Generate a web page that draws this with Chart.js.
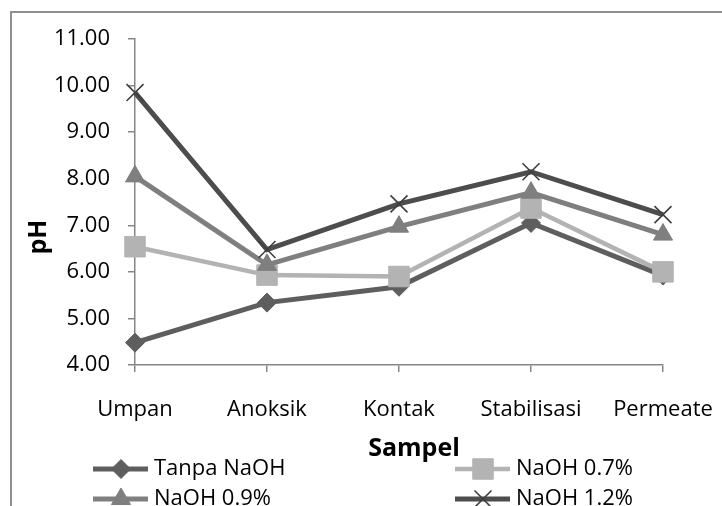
<!DOCTYPE html>
<html>
<head>
<meta charset="utf-8">
<script src="https://cdn.jsdelivr.net/npm/chart.js@4/dist/chart.umd.min.js"></script>
<style>
  html, body { margin: 0; padding: 0; background: #fff; }
  canvas { display: block; }
</style>
</head>
<body>
<canvas id="c" width="722" height="506"></canvas>
<script>
// pH per sampling point for each NaOH dose
const categories = ['Umpan', 'Anoksik', 'Kontak', 'Stabilisasi', 'Permeate'];
const seriesNames = ['Tanpa NaOH', 'NaOH 0.7%', 'NaOH 0.9%', 'NaOH 1.2%'];
const tanpaNaOH = [4.48, 5.34, 5.68, 7.05, 5.92];
const naoh07 = [6.54, 5.93, 5.90, 7.37, 6.00];
const naoh09 = [8.05, 6.15, 6.97, 7.70, 6.80];
const naoh12 = [9.85, 6.48, 7.46, 8.15, 7.23];
const yTicks = [4, 5, 6, 7, 8, 9, 10, 11];
const xTitle = 'Sampel';
const yTitle = 'pH';

const FONT = "'Open Sans', sans-serif";
const AXIS_GRAY = '#868686';

const styles = [
  { color: '#5e5e5e', point: 'rectRot', radius: 9.5, width: 5 },
  { color: '#b3b3b3', point: 'rect', radius: 14.5, width: 4.5 },
  { color: '#7f7f7f', point: 'triangle', radius: 11, width: 5 },
  { color: '#4d4d4d', point: 'crossRot', radius: 12, width: 5 }
];
const values = [tanpaNaOH, naoh07, naoh09, naoh12];

const datasets = values.map((v, i) => {
  const s = styles[i];
  const isCross = s.point === 'crossRot';
  return {
    label: seriesNames[i],
    data: v,
    borderColor: s.color,
    backgroundColor: s.color,
    borderWidth: s.width,
    pointStyle: s.point,
    pointRadius: s.radius,
    pointHoverRadius: s.radius,
    pointBackgroundColor: s.color,
    pointBorderColor: isCross ? '#3f3f3f' : s.color,
    pointBorderWidth: isCross ? 1.6 : 1,
    tension: 0,
    order: values.length - i
  };
});

function drawMarker(ctx, style, radius, x, y, color, isCross) {
  const opts = {
    pointStyle: style, radius: radius, rotation: 0,
    borderWidth: isCross ? 1.6 : 1
  };
  ctx.save();
  ctx.fillStyle = color;
  ctx.strokeStyle = isCross ? '#3f3f3f' : color;
  ctx.lineWidth = opts.borderWidth;
  Chart.helpers.drawPoint(ctx, opts, x, y);
  ctx.restore();
}

// frame, axis titles and a two-column legend under the plot
const decorations = {
  id: 'decorations',
  beforeDraw(chart) {
    const ctx = chart.ctx;
    ctx.save();
    ctx.fillStyle = '#fff';
    ctx.fillRect(0, 0, chart.width, chart.height);
    ctx.strokeStyle = '#8f8f8f';
    ctx.lineWidth = 2;
    ctx.strokeRect(11, 12, 900, 700);
    ctx.restore();
  },
  afterDraw(chart) {
    const ctx = chart.ctx;
    ctx.save();
    ctx.fillStyle = '#000';
    ctx.font = 'bold 25px ' + FONT;
    ctx.textAlign = 'center';
    ctx.textBaseline = 'alphabetic';
    ctx.fillText(xTitle, 414, 456);
    ctx.translate(46, 237);
    ctx.rotate(-Math.PI / 2);
    ctx.fillText(yTitle, 0, 0);
    ctx.restore();

    const cols = [93, 455];
    const rows = [469, 499];
    ctx.save();
    ctx.font = '22px ' + FONT;
    ctx.textAlign = 'left';
    ctx.textBaseline = 'middle';
    chart.data.datasets.forEach((ds, i) => {
      const x = cols[i % 2];
      const y = rows[Math.floor(i / 2)];
      const s = styles[i];
      ctx.strokeStyle = s.color;
      ctx.lineWidth = s.width;
      ctx.beginPath();
      ctx.moveTo(x, y);
      ctx.lineTo(x + 55, y);
      ctx.stroke();
      drawMarker(ctx, s.point, s.radius, x + 28, y, s.color, s.point === 'crossRot');
      ctx.fillStyle = '#000';
      ctx.fillText(ds.label, x + 61, y);
    });
    ctx.restore();
  }
};

new Chart(document.getElementById('c'), {
  type: 'line',
  data: { labels: categories, datasets: datasets },
  plugins: [decorations],
  options: {
    responsive: false,
    devicePixelRatio: 1,
    animation: false,
    layout: { padding: { left: 0, top: 39, right: 59, bottom: 81 } },
    plugins: { legend: { display: false }, tooltip: { enabled: false } },
    scales: {
      x: {
        type: 'category',
        offset: false,
        grid: {
          offset: false,
          drawOnChartArea: false,
          drawTicks: true,
          tickLength: 7,
          color: AXIS_GRAY,
          lineWidth: 1.5
        },
        border: { display: true, color: AXIS_GRAY, width: 1.5 },
        ticks: {
          color: '#000',
          font: { family: FONT, size: 22 },
          padding: 25,
          maxRotation: 0,
          autoSkip: false
        },
        afterFit(scale) {
          scale.height = 60;
          scale.paddingLeft = 0;
          scale.paddingRight = 0;
        }
      },
      y: {
        min: yTicks[0],
        max: yTicks[yTicks.length - 1],
        afterBuildTicks(scale) {
          scale.ticks = yTicks.map(v => ({ value: v }));
        },
        grid: {
          drawOnChartArea: false,
          drawTicks: true,
          tickLength: 7,
          color: AXIS_GRAY,
          lineWidth: 1.5
        },
        border: { display: true, color: AXIS_GRAY, width: 1.5 },
        ticks: {
          color: '#000',
          font: { family: FONT, size: 22 },
          padding: 18,
          callback: v => Number(v).toFixed(2)
        },
        afterFit(scale) {
          scale.width = 135;
        }
      }
    }
  }
});
</script>
</body>
</html>
